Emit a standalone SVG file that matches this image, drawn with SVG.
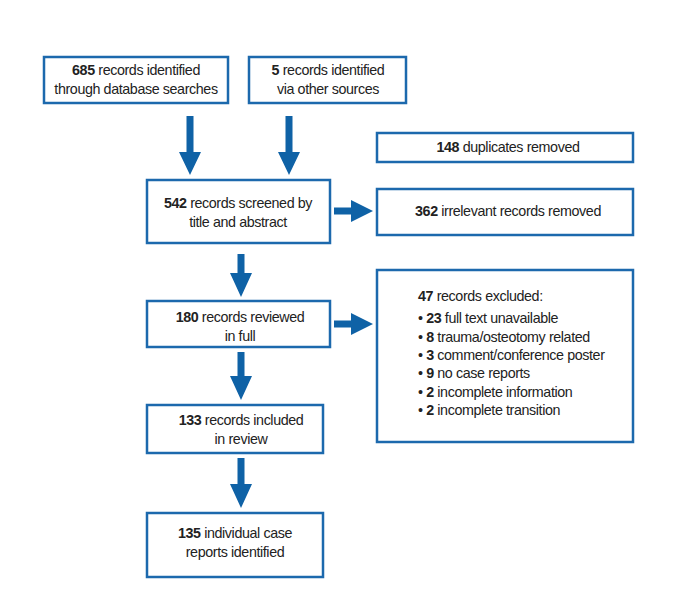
<svg xmlns="http://www.w3.org/2000/svg" width="685" height="595" viewBox="0 0 685 595">
<style>
.box{fill:#fff;stroke:#1c69ad;stroke-width:2.5}
text{font-family:"Liberation Sans",Arial,sans-serif;font-size:14.3px;letter-spacing:-0.4px;fill:#222}
.c{text-anchor:middle}
.b{font-weight:bold}
.arr{fill:#0f62a6}
</style>
<rect width="685" height="595" fill="#fff"/>
<g id="connectors">
<path class="arr" d="M186.5,116 H193.5 V152 H201 L190,175 L179,152 H186.5 Z"/>
<path class="arr" d="M285.5,116 H292.5 V152 H300 L289,175 L278,152 H285.5 Z"/>
<path class="arr" d="M237.5,254 H244.5 V273 H252 L241,297 L230,273 H237.5 Z"/>
<path class="arr" d="M237.5,352 H244.5 V376 H252 L241,400 L230,376 H237.5 Z"/>
<path class="arr" d="M237.5,458 H244.5 V484 H252 L241,508 L230,484 H237.5 Z"/>
<path class="arr" d="M334,207.5 V214.5 H351 V222 L373,211 L351,200 V207.5 Z"/>
<path class="arr" d="M334,320.5 V327.5 H351 V335 L373,324 L351,313 V320.5 Z"/>
</g>
<g id="n685">
<rect class="box" x="44" y="57" width="184" height="46"/>
<text class="c" x="136" y="75"><tspan class="b">685</tspan> records identified</text>
<text class="c" x="136" y="94">through database searches</text>
</g>
<g id="n5">
<rect class="box" x="249" y="57" width="157" height="46"/>
<text class="c" x="328" y="75"><tspan class="b">5</tspan> records identified</text>
<text class="c" x="328" y="94">via other sources</text>
</g>
<g id="n148">
<rect class="box" x="377" y="133" width="256" height="29"/>
<text class="c" x="508" y="152"><tspan class="b">148</tspan> duplicates removed</text>
</g>
<g id="n542">
<rect class="box" x="147" y="180" width="183" height="63"/>
<text class="c" x="238" y="208"><tspan class="b">542</tspan> records screened by</text>
<text class="c" x="238" y="227">title and abstract</text>
</g>
<g id="n362">
<rect class="box" x="377" y="189" width="256" height="46"/>
<text class="c" x="508" y="216"><tspan class="b">362</tspan> irrelevant records removed</text>
</g>
<g id="n180">
<rect class="box" x="147" y="301" width="183" height="46"/>
<text class="c" x="240" y="322"><tspan class="b">180</tspan> records reviewed</text>
<text class="c" x="240" y="341">in full</text>
</g>
<g id="n47">
<rect class="box" x="377" y="270" width="256" height="172"/>
<text x="418" y="301"><tspan class="b">47</tspan> records excluded:</text>
<text x="418" y="323">• <tspan class="b">23</tspan> full text unavailable</text>
<text x="418" y="342">• <tspan class="b">8</tspan> trauma/osteotomy related</text>
<text x="418" y="360">• <tspan class="b">3</tspan> comment/conference poster</text>
<text x="418" y="378">• <tspan class="b">9</tspan> no case reports</text>
<text x="418" y="397">• <tspan class="b">2</tspan> incomplete information</text>
<text x="418" y="415">• <tspan class="b">2</tspan> incomplete transition</text>
</g>
<g id="n133">
<rect class="box" x="147" y="405" width="176" height="48"/>
<text class="c" x="241" y="425"><tspan class="b">133</tspan> records included</text>
<text class="c" x="241" y="444">in review</text>
</g>
<g id="n135">
<rect class="box" x="147" y="513" width="176" height="64"/>
<text class="c" x="235" y="538"><tspan class="b">135</tspan> individual case</text>
<text class="c" x="235" y="557">reports identified</text>
</g>
</svg>
